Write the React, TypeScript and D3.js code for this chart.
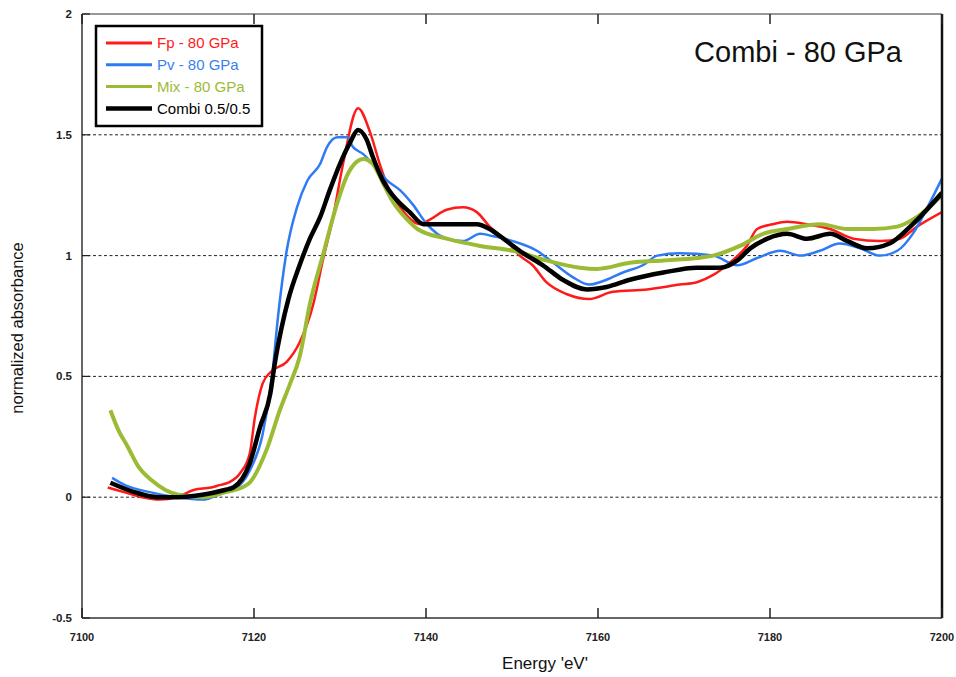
import React from 'react';
import * as d3 from 'd3';

// Fp - 80 GPa
const fpE = [7103, 7105, 7107, 7109, 7111, 7113, 7115, 7116, 7117, 7118.4, 7119.5, 7120.1, 7121, 7122, 7123.8, 7125.3, 7126.9, 7128, 7129.2, 7130.3, 7132.1, 7133.5, 7134.7, 7135.5, 7137, 7139.3, 7140.5, 7142.4, 7144.3, 7145.9, 7147.4, 7149.4, 7150.9, 7152.4, 7154, 7156.4, 7159, 7161.7, 7165.7, 7169.5, 7171.5, 7173.4, 7175.3, 7177.3, 7178.5, 7180.3, 7182, 7184.3, 7187, 7189.7, 7192.8, 7195.1, 7197.1, 7200];
const fpY = [0.04, 0.02, 0.0, -0.01, 0.0, 0.03, 0.04, 0.05, 0.06, 0.1, 0.18, 0.33, 0.47, 0.52, 0.56, 0.64, 0.8, 0.98, 1.16, 1.37, 1.61, 1.51, 1.37, 1.29, 1.2, 1.13, 1.15, 1.19, 1.2, 1.18, 1.12, 1.06, 1.0, 0.96, 0.89, 0.84, 0.82, 0.85, 0.86, 0.88, 0.89, 0.92, 0.97, 1.04, 1.11, 1.13, 1.14, 1.13, 1.11, 1.07, 1.06, 1.07, 1.12, 1.18];

// Pv - 80 GPa
const pvE = [7103.5, 7105, 7108, 7111, 7114, 7116.6, 7117.6, 7119.5, 7121, 7122.1, 7122.8, 7123.8, 7125, 7126.2, 7127.7, 7128.5, 7129.7, 7130.8, 7131.5, 7132.7, 7133.8, 7135.5, 7137, 7138.5, 7140.1, 7142.4, 7144.3, 7146.3, 7147.8, 7150.1, 7152.9, 7154.8, 7157.1, 7159, 7161, 7162.9, 7165.2, 7166.9, 7169.5, 7173.4, 7176.2, 7178.5, 7181.2, 7183.5, 7185.8, 7188.1, 7190.5, 7192.8, 7194.8, 7196.6, 7198.6, 7200];
const pvY = [0.08, 0.05, 0.02, 0.0, -0.01, 0.02, 0.03, 0.11, 0.26, 0.5, 0.75, 1.02, 1.2, 1.31, 1.38, 1.45, 1.49, 1.49, 1.45, 1.42, 1.38, 1.31, 1.27, 1.21, 1.13, 1.07, 1.06, 1.09, 1.08, 1.06, 1.02, 0.97, 0.91, 0.88, 0.9, 0.93, 0.96, 1.0, 1.01, 1.0, 0.96, 0.99, 1.02, 1.0, 1.02, 1.05, 1.03, 1.0, 1.02, 1.09, 1.22, 1.32];

// Mix - 80 GPa
const mixE = [7103.3, 7104.2, 7105.3, 7106.5, 7108.1, 7109.7, 7111.2, 7114, 7116.6, 7118.6, 7119.5, 7121.5, 7123, 7124.2, 7125.3, 7126.5, 7128, 7129.7, 7130.8, 7132, 7132.7, 7133.8, 7135, 7136.2, 7137.8, 7139, 7142.4, 7146.3, 7150.1, 7154, 7157.9, 7159.9, 7163.7, 7167.6, 7171.5, 7173.4, 7176.5, 7179.2, 7182, 7185.8, 7189, 7192, 7194.8, 7197.1, 7200];
const mixY = [0.36, 0.28, 0.21, 0.13, 0.07, 0.03, 0.01, 0.0, 0.02, 0.04, 0.06, 0.2, 0.36, 0.47, 0.58, 0.8, 1.0, 1.22, 1.33, 1.39, 1.4, 1.38, 1.3, 1.22, 1.15, 1.11, 1.07, 1.04, 1.02, 0.98, 0.95, 0.945, 0.97, 0.98, 0.99, 1.0, 1.04, 1.09, 1.11, 1.13, 1.11, 1.11, 1.12, 1.16, 1.25];

// Combi 0.5/0.5
const combiE = [7103.3, 7106.2, 7108.8, 7111.2, 7114, 7116.6, 7117.6, 7119.5, 7120.7, 7121.9, 7122.4, 7123.2, 7124, 7125.3, 7126.5, 7127.7, 7128.8, 7130, 7131.2, 7132.1, 7133.1, 7133.8, 7135, 7136.6, 7138.1, 7139.7, 7142.4, 7145.9, 7147.4, 7149, 7151.3, 7153.6, 7155.9, 7158.7, 7161, 7163.7, 7167.6, 7171.5, 7174.2, 7176.2, 7177.7, 7179.7, 7182, 7184.3, 7187, 7189, 7191.3, 7193.9, 7196.6, 7200];
const combiY = [0.06, 0.02, 0.0, 0.0, 0.01, 0.03, 0.04, 0.14, 0.29, 0.43, 0.55, 0.7, 0.82, 0.96, 1.07, 1.16, 1.27, 1.38, 1.47, 1.52, 1.48, 1.41, 1.31, 1.23, 1.18, 1.13, 1.13, 1.13, 1.11, 1.07, 1.01, 0.96, 0.9, 0.86, 0.87, 0.9, 0.93, 0.95, 0.95, 0.98, 1.03, 1.07, 1.09, 1.07, 1.09, 1.06, 1.03, 1.05, 1.13, 1.26];

const xTicks = [7100, 7120, 7140, 7160, 7180, 7200];
const yTicks = [-0.5, 0, 0.5, 1, 1.5, 2];
const gridTicks = [0, 0.5, 1, 1.5];

const series = [
  { name: 'Fp - 80 GPa', e: fpE, y: fpY, color: '#ff1a1a', text: '#ff1a1a', w: 2.5 },
  { name: 'Pv - 80 GPa', e: pvE, y: pvY, color: '#2f7bf5', text: '#3a7ff0', w: 2.5 },
  { name: 'Mix - 80 GPa', e: mixE, y: mixY, color: '#9bbb35', text: '#9bbb35', w: 4 },
  { name: 'Combi 0.5/0.5', e: combiE, y: combiY, color: '#000000', text: '#000000', w: 4.5 },
];

export default function App() {
  const width = 956;
  const height = 677;
  const margin = { top: 14, right: 14, bottom: 59, left: 82 };
  const innerW = width - margin.left - margin.right;
  const innerH = height - margin.top - margin.bottom;

  const x = d3.scaleLinear().domain([7100, 7200]).range([0, innerW]);
  const y = d3.scaleLinear().domain([-0.5, 2]).range([innerH, 0]);

  const line = d3
    .line<[number, number]>()
    .x(d => x(d[0]))
    .y(d => y(d[1]))
    .curve(d3.curveMonotoneX);

  const font = "'Liberation Sans', Arial, sans-serif";

  return (
    <svg width={width} height={height} style={{ position: 'absolute', left: 0, top: 0, background: '#fff' }} fontFamily={font}>
      <defs>
        <clipPath id="plot">
          <rect x={0} y={0} width={innerW} height={innerH} />
        </clipPath>
      </defs>
      <g transform={`translate(${margin.left},${margin.top})`}>
        {gridTicks.map(t => (
          <line key={t} x1={0} x2={innerW} y1={y(t)} y2={y(t)} stroke="#222" strokeWidth={1} strokeDasharray="3 2.5" />
        ))}

        <g clipPath="url(#plot)">
          {series.map(s => (
            <path
              key={s.name}
              d={line(s.e.map((e, i) => [e, s.y[i]] as [number, number])) || ''}
              fill="none"
              stroke={s.color}
              strokeWidth={s.w}
              strokeLinejoin="round"
            />
          ))}
        </g>

        {/* frame */}
        <line x1={0} x2={innerW} y1={0} y2={0} stroke="#333" strokeWidth={1.2} />
        <line x1={0} x2={innerW} y1={innerH} y2={innerH} stroke="#333" strokeWidth={1.5} />
        <line x1={0} x2={0} y1={0} y2={innerH} stroke="#333" strokeWidth={1.5} />
        <line x1={innerW} x2={innerW} y1={0} y2={innerH} stroke="#111" strokeWidth={2.5} />

        {xTicks.map(t => (
          <g key={t}>
            <line x1={x(t)} x2={x(t)} y1={innerH} y2={innerH - 10} stroke="#222" strokeWidth={1.5} />
            <line x1={x(t)} x2={x(t)} y1={0} y2={10} stroke="#222" strokeWidth={1.5} />
            <text x={x(t)} y={innerH + 23} textAnchor="middle" fontSize={11} fontWeight="bold" fill="#222">
              {t}
            </text>
          </g>
        ))}

        {yTicks.map(t => (
          <g key={t}>
            <line x1={0} x2={8} y1={y(t)} y2={y(t)} stroke="#222" strokeWidth={1.2} />
            <text x={-10} y={y(t)} dy="0.35em" textAnchor="end" fontSize={11.5} fontWeight="bold" fill="#222">
              {t}
            </text>
          </g>
        ))}

        {/* legend */}
        <g transform="translate(14,12)">
          <rect x={0} y={0} width={166} height={100} fill="#fff" stroke="#000" strokeWidth={2.5} />
          {series.map((s, i) => (
            <g key={s.name} transform={`translate(0,${17 + i * 21.8})`}>
              <line x1={10} x2={56} y1={0} y2={0} stroke={s.color} strokeWidth={i === 3 ? 4.5 : 3} />
              <text x={61} y={0} dy="0.36em" fontSize={15} fill={s.text}>
                {s.name}
              </text>
            </g>
          ))}
        </g>

        <text x={innerW - 40} y={48} textAnchor="end" fontSize={29} fill="#111">
          Combi - 80 GPa
        </text>
      </g>

      <text transform={`translate(23,${margin.top + innerH / 2 + 12}) rotate(-90)`} textAnchor="middle" fontSize={16.5} fill="#111">
        normalized absorbance
      </text>
      <text x={margin.left + innerW / 2 + 33} y={669} textAnchor="middle" fontSize={17} fill="#111">
        Energy 'eV'
      </text>
    </svg>
  );
}
